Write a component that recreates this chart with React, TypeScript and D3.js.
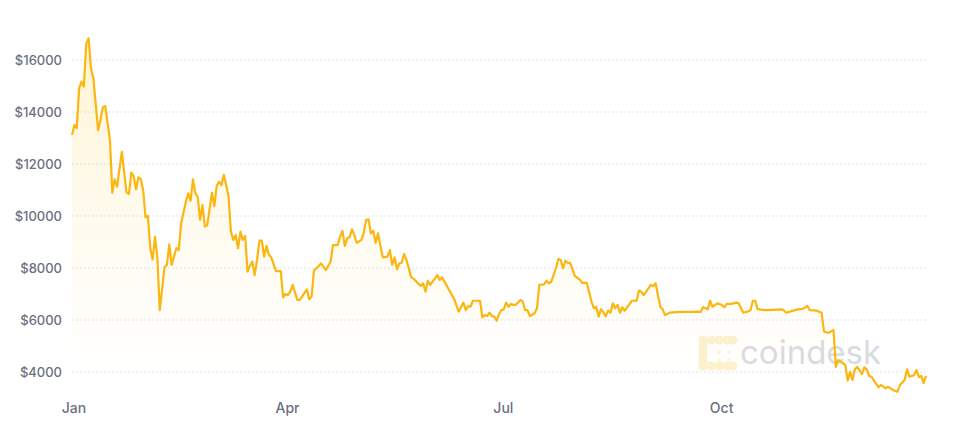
import * as d3 from "d3"

// Bitcoin price, 2018
const dates = [
  "2018-01-01", "2018-01-02", "2018-01-03", "2018-01-04", "2018-01-05", "2018-01-06", "2018-01-07", "2018-01-08",
  "2018-01-09", "2018-01-10", "2018-01-12", "2018-01-13", "2018-01-14", "2018-01-15", "2018-01-17", "2018-01-18",
  "2018-01-19", "2018-01-20", "2018-01-22", "2018-01-24", "2018-01-25", "2018-01-26", "2018-01-27", "2018-01-28",
  "2018-01-29", "2018-01-30", "2018-01-31", "2018-02-01", "2018-02-02", "2018-02-03", "2018-02-04", "2018-02-05",
  "2018-02-06", "2018-02-07", "2018-02-09", "2018-02-10", "2018-02-11", "2018-02-12", "2018-02-14", "2018-02-15",
  "2018-02-16", "2018-02-18", "2018-02-19", "2018-02-20", "2018-02-21", "2018-02-22", "2018-02-23", "2018-02-24",
  "2018-02-25", "2018-02-26", "2018-02-27", "2018-03-01", "2018-03-02", "2018-03-03", "2018-03-04", "2018-03-05",
  "2018-03-06", "2018-03-07", "2018-03-08", "2018-03-09", "2018-03-10", "2018-03-11", "2018-03-12", "2018-03-13",
  "2018-03-14", "2018-03-15", "2018-03-16", "2018-03-17", "2018-03-18", "2018-03-19", "2018-03-20", "2018-03-21",
  "2018-03-22", "2018-03-23", "2018-03-24", "2018-03-25", "2018-03-26", "2018-03-28", "2018-03-30", "2018-03-31",
  "2018-04-01", "2018-04-02", "2018-04-03", "2018-04-04", "2018-04-06", "2018-04-07", "2018-04-08", "2018-04-10",
  "2018-04-11", "2018-04-12", "2018-04-13", "2018-04-15", "2018-04-16", "2018-04-18", "2018-04-20", "2018-04-21",
  "2018-04-23", "2018-04-24", "2018-04-25", "2018-04-26", "2018-04-27", "2018-04-28", "2018-04-29", "2018-04-30",
  "2018-05-01", "2018-05-03", "2018-05-04", "2018-05-05", "2018-05-06", "2018-05-07", "2018-05-08", "2018-05-09",
  "2018-05-10", "2018-05-12", "2018-05-14", "2018-05-15", "2018-05-16", "2018-05-17", "2018-05-18", "2018-05-19",
  "2018-05-20", "2018-05-21", "2018-05-22", "2018-05-24", "2018-05-25", "2018-05-28", "2018-05-29", "2018-05-30",
  "2018-05-31", "2018-06-01", "2018-06-04", "2018-06-05", "2018-06-06", "2018-06-09", "2018-06-11", "2018-06-13",
  "2018-06-15", "2018-06-16", "2018-06-17", "2018-06-18", "2018-06-19", "2018-06-22", "2018-06-23", "2018-06-24",
  "2018-06-25", "2018-06-26", "2018-06-27", "2018-06-28", "2018-06-29", "2018-06-30", "2018-07-01", "2018-07-02",
  "2018-07-03", "2018-07-04", "2018-07-05", "2018-07-06", "2018-07-07", "2018-07-09", "2018-07-10", "2018-07-11",
  "2018-07-12", "2018-07-13", "2018-07-15", "2018-07-16", "2018-07-17", "2018-07-19", "2018-07-20", "2018-07-21",
  "2018-07-22", "2018-07-24", "2018-07-25", "2018-07-26", "2018-07-27", "2018-07-28", "2018-07-29", "2018-07-30",
  "2018-08-01", "2018-08-03", "2018-08-04", "2018-08-06", "2018-08-08", "2018-08-09", "2018-08-10", "2018-08-11",
  "2018-08-12", "2018-08-13", "2018-08-14", "2018-08-15", "2018-08-16", "2018-08-17", "2018-08-18", "2018-08-19",
  "2018-08-20", "2018-08-21", "2018-08-22", "2018-08-25", "2018-08-27", "2018-08-28", "2018-08-29", "2018-08-30",
  "2018-09-01", "2018-09-02", "2018-09-03", "2018-09-04", "2018-09-06", "2018-09-07", "2018-09-08", "2018-09-10",
  "2018-09-13", "2018-09-16", "2018-09-20", "2018-09-21", "2018-09-23", "2018-09-24", "2018-09-26", "2018-09-27",
  "2018-09-28", "2018-09-30", "2018-10-02", "2018-10-03", "2018-10-04", "2018-10-06", "2018-10-08", "2018-10-09",
  "2018-10-11", "2018-10-13", "2018-10-14", "2018-10-15", "2018-10-16", "2018-10-17", "2018-10-20", "2018-10-23",
  "2018-10-27", "2018-10-28", "2018-10-29", "2018-11-01", "2018-11-03", "2018-11-05", "2018-11-07", "2018-11-08",
  "2018-11-11", "2018-11-13", "2018-11-14", "2018-11-16", "2018-11-18", "2018-11-19", "2018-11-20", "2018-11-21",
  "2018-11-23", "2018-11-24", "2018-11-25", "2018-11-26", "2018-11-27", "2018-11-28", "2018-11-30", "2018-12-01",
  "2018-12-02", "2018-12-03", "2018-12-04", "2018-12-07", "2018-12-08", "2018-12-09", "2018-12-10", "2018-12-11",
  "2018-12-13", "2018-12-15", "2018-12-16", "2018-12-18", "2018-12-19", "2018-12-20", "2018-12-22", "2018-12-23",
  "2018-12-24", "2018-12-25", "2018-12-26", "2018-12-27",
]

const prices = [
  13115, 13500, 13380, 14910, 15170, 14980, 16640, 16830,
  15680, 15300, 13300, 13690, 14180, 14230, 12920, 10900,
  11410, 11130, 12470, 10900, 10850, 11670, 11540, 11030,
  11490, 11420, 11000, 9950, 10000, 8760, 8330, 9200,
  8370, 6380, 8030, 8120, 8910, 8120, 8760, 8690,
  9720, 10550, 10870, 10590, 11410, 10870, 10740, 9850,
  10420, 9590, 9650, 10900, 10380, 11150, 11320, 11190,
  11580, 11190, 10740, 9400, 9080, 9270, 8760, 9400,
  9080, 9230, 7860, 8080, 8240, 7730, 8310, 9050,
  9050, 8440, 8850, 8500, 8410, 7880, 7880, 6870,
  7000, 6960, 7090, 7350, 6770, 6770, 6900, 7180,
  6800, 6900, 7900, 8080, 8180, 7920, 8240, 8880,
  8880, 9200, 9430, 8850, 9140, 9180, 9490, 9270,
  8970, 9080, 9360, 9850, 9870, 9330, 9430, 8970,
  9330, 8410, 8440, 8690, 8120, 8410, 7950, 8180,
  8200, 8540, 8310, 7640, 7590, 7310, 7410, 7090,
  7510, 7350, 7730, 7540, 7640, 7150, 6830, 6320,
  6670, 6380, 6540, 6510, 6740, 6740, 6100, 6190,
  6150, 6280, 6150, 6130, 5970, 6230, 6380, 6410,
  6670, 6510, 6620, 6580, 6580, 6770, 6710, 6380,
  6380, 6150, 6260, 6450, 7350, 7370, 7510, 7410,
  7470, 7990, 8350, 8310, 7990, 8280, 8200, 8200,
  7690, 7560, 7430, 7430, 6710, 6450, 6510, 6130,
  6420, 6300, 6140, 6360, 6280, 6640, 6450, 6580,
  6280, 6490, 6360, 6740, 6740, 7130, 7090, 6960,
  7220, 7350, 7310, 7410, 6510, 6410, 6190, 6280,
  6300, 6310, 6310, 6320, 6310, 6490, 6410, 6740,
  6510, 6640, 6580, 6490, 6620, 6620, 6670, 6640,
  6280, 6330, 6380, 6740, 6740, 6420, 6380, 6390,
  6410, 6380, 6280, 6360, 6410, 6430, 6540, 6380,
  6360, 6280, 5550, 5510, 5620, 4200, 4460, 4400,
  4270, 3670, 4010, 3690, 4100, 4200, 3920, 4180,
  4100, 3850, 3820, 3410, 3500, 3440, 3370, 3440,
  3310, 3240, 3500, 3690, 4100, 3820, 3880, 4080,
  3800, 3850, 3570, 3850,
]

const yTicks = [4000, 6000, 8000, 10000, 12000, 14000, 16000]
const xTicks = ["2018-01-01", "2018-04-01", "2018-07-01", "2018-10-01"]

const W = 965
const H = 424
const LINE = "#fbb60f"
const FONT = "Inter, Roboto, 'Noto Sans', sans-serif"

// watermark logo dots: a "C" made of blobs
const logoDots = [
  [703, 340], [711, 340], [719, 340], [727, 340], [733, 340],
  [703, 347], [703, 354], [703, 361],
  [703, 366], [711, 366], [719, 366], [727, 366], [733, 366],
]

export default function App() {
  const parse = d3.timeParse("%Y-%m-%d")
  const data = dates.map((d, i) => ({ date: parse(d) as Date, value: prices[i] }))

  const x = d3
    .scaleTime()
    .domain(d3.extent(data, (d) => d.date) as [Date, Date])
    .range([72, 926])
  const y = d3.scaleLinear().domain([4000, 16000]).range([372, 60])

  const line = d3
    .line<{ date: Date; value: number }>()
    .x((d) => x(d.date))
    .y((d) => y(d.value))

  const area = d3
    .area<{ date: Date; value: number }>()
    .x((d) => x(d.date))
    .y0(y(3000))
    .y1((d) => y(d.value))

  const fmt = d3.timeFormat("%b")

  return (
    <svg
      width={W}
      height={H}
      style={{ position: "absolute", left: 0, top: 0, background: "#fff" }}
      fontFamily={FONT}
    >
      <defs>
        <linearGradient id="fade" gradientUnits="userSpaceOnUse" x1="0" y1="40" x2="0" y2="380">
          <stop offset="0" stopColor="#ffcc3d" stopOpacity={0.22} />
          <stop offset="0.55" stopColor="#ffcc3d" stopOpacity={0.08} />
          <stop offset="1" stopColor="#ffcc3d" stopOpacity={0} />
        </linearGradient>
      </defs>

      {/* grid + y labels */}
      {yTicks.map((t) => (
        <g key={t}>
          <line
            x1={72}
            x2={926}
            y1={y(t)}
            y2={y(t)}
            stroke="#dce2f2"
            strokeWidth={1}
            strokeDasharray="2,2"
          />
          <text
            x={62}
            y={y(t)}
            dy="0.35em"
            textAnchor="end"
            fontSize={13}
            fontWeight={500}
            fill="#6b7080"
          >
            ${t}
          </text>
        </g>
      ))}

      {/* watermark */}
      <g fill="#fdf1cf">
        {logoDots.map(([cx, cy], i) => (
          <circle key={i} cx={cx} cy={cy} r={4.6} />
        ))}
        <rect x={703} y={340} width={30} height={3} />
        <rect x={703} y={363} width={30} height={3} />
        <rect x={699} y={340} width={8} height={26} />
        <circle cx={719} cy={352} r={2} />
        <circle cx={719} cy={360} r={1.5} />
        <circle cx={729} cy={352} r={1.5} />
        <circle cx={729} cy={360} r={1.5} />
      </g>
      <text x={740} y={364} fontSize={33} fill="#d8dbe2" fontFamily={FONT}>
        coindesk
      </text>

      <path d={area(data) ?? ""} fill="url(#fade)" />
      <path d={line(data) ?? ""} fill="none" stroke={LINE} strokeWidth={2.2} strokeLinejoin="round" />

      {/* x labels */}
      {xTicks.map((t) => (
        <text
          key={t}
          x={x(parse(t) as Date) + 2}
          y={413}
          textAnchor="middle"
          fontSize={14}
          fontWeight={500}
          fill="#6b7080"
        >
          {fmt(parse(t) as Date)}
        </text>
      ))}
    </svg>
  )
}
